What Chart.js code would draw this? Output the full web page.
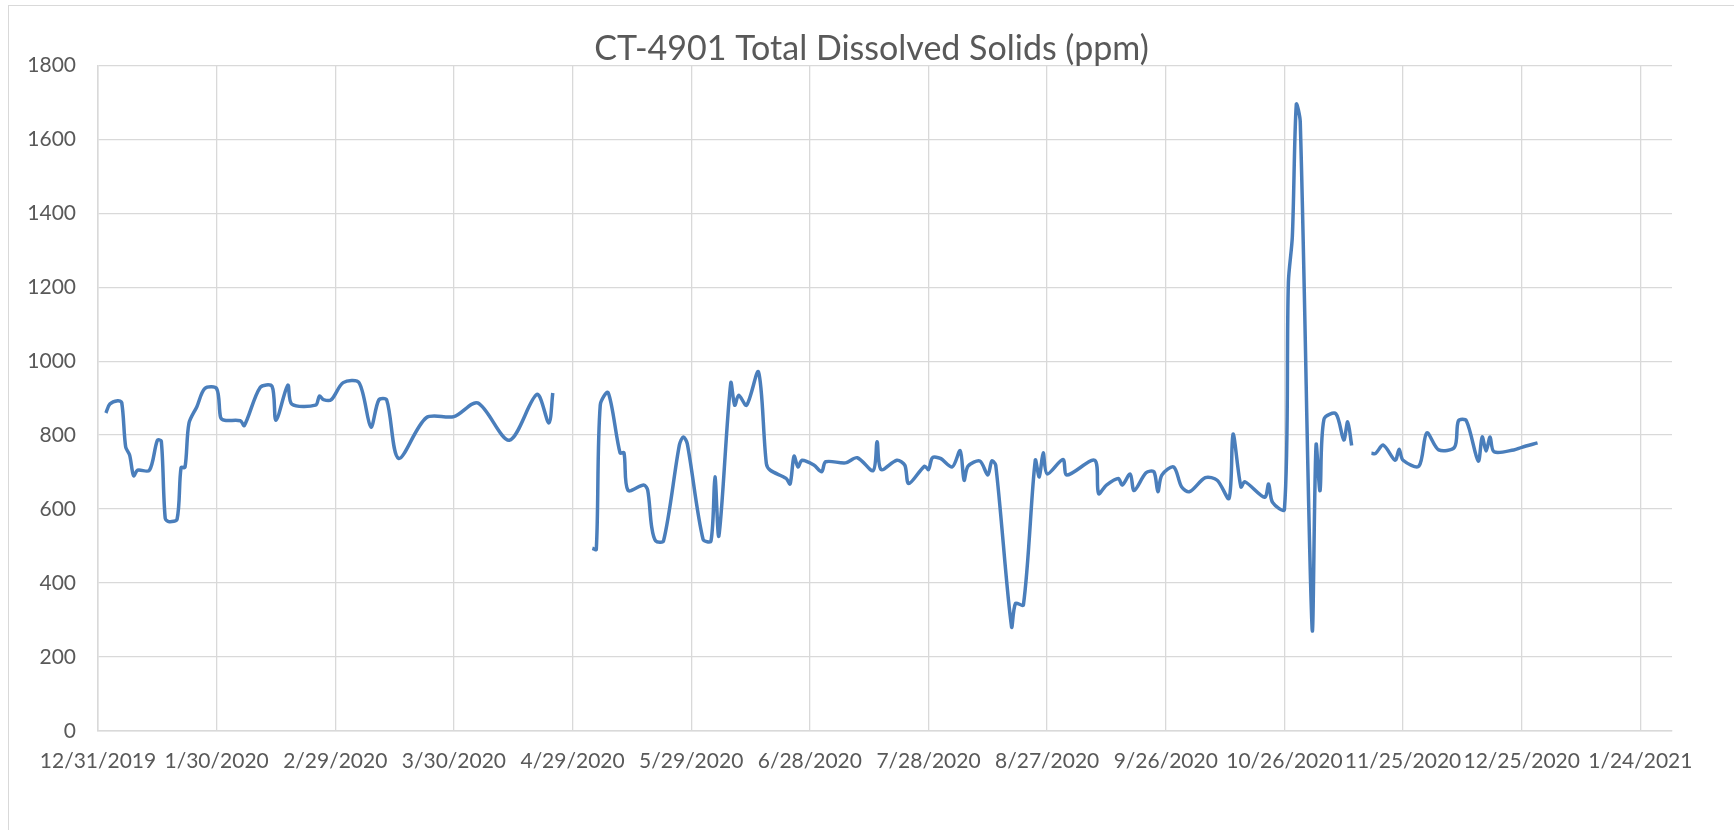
<!DOCTYPE html>
<html>
<head>
<meta charset="utf-8">
<script src="https://cdn.jsdelivr.net/npm/chart.js@4"></script>
<style>
  body { margin: 0; background: #fff; overflow: hidden; }
  #frame { position: absolute; left: 8px; top: 5px; width: 1760px; height: 860px; border: 1.5px solid #d9d9d9; }
  #tdsChart { position: absolute; left: 9px; top: 6px; }
</style>
</head>
<body>
<div id="frame"></div>
<canvas id="tdsChart" width="1725" height="824"></canvas>
<script>
// day 0 = 12/31/2019, null marks a gap in the readings
const days = [
  2, 3, 5, 6, 7, 8, 9, 10, 13, 15, 16, 17, 18, 20, 21, 22, 23, 25, 27, 30,
  31, 32, 36, 37, 41, 44, 45, 48, 49, 55, 56, 57, 59, 62, 66, 69, 71, 73, 76, 83,
  90, 96, 104, 111, 114, 115,
  120,
  125, 126, 127, 129, 132, 133, 134, 138, 139, 140, 141, 143, 147, 148, 149, 153, 155, 156, 157, 160,
  161, 162, 164, 167, 169, 170, 174, 175, 176, 177, 178, 181, 183, 184, 189, 192, 196, 197, 198, 202,
  204, 205, 209, 210, 211, 213, 216, 218, 219, 220, 223, 225, 226, 227, 231, 232, 234, 237, 238, 239,
  240, 244, 245, 252, 253, 255, 258, 259, 261, 262, 265, 267, 268, 269, 272, 274, 276, 280, 283, 286,
  287, 289, 290, 295, 296, 297, 300, 301, 302, 303, 304, 307, 308, 309, 310, 313, 315, 316, 317,
  319,
  322, 323, 325, 328, 329, 330, 334, 336, 339, 343, 344, 346, 349, 350, 351, 352, 353, 358, 360, 364
];
const tds = [
  860, 884, 893, 888, 768, 746, 690, 705, 705, 786, 784, 575, 566, 573, 712, 713, 832, 877, 926, 926,
  848, 840, 839, 826, 929, 932, 840, 935, 884, 881, 906, 896, 896, 942, 942, 822, 895, 895, 737, 847,
  850, 887, 786, 910, 833, 914,
  null,
  494, 491, 881, 915, 752, 752, 651, 665, 651, 552, 514, 514, 773, 795, 777, 518, 514, 687, 528, 941,
  881, 908, 881, 971, 723, 705, 683, 668, 743, 714, 732, 719, 701, 728, 725, 739, 704, 782, 707, 732,
  719, 669, 716, 707, 739, 737, 714, 758, 678, 716, 730, 692, 730, 719, 282, 345, 341, 732, 687, 752,
  695, 734, 692, 732, 642, 665, 683, 665, 695, 650, 698, 701, 647, 692, 714, 660, 647, 685, 678, 629,
  803, 660, 674, 632, 668, 618, 599, 1213, 1337, 1694, 1647, 277, 774, 650, 843, 858, 787, 836, 772,
  null,
  751, 750, 773, 732, 762, 732, 716, 806, 760, 767, 839, 839, 730, 795, 757, 795, 755, 760, 767, 779
];
const yTicks = [0, 200, 400, 600, 800, 1000, 1200, 1400, 1600, 1800];

const startDate = Date.UTC(2019, 11, 31);
function dayLabel(d) {
  const dt = new Date(startDate + d * 86400000);
  return (dt.getUTCMonth() + 1) + '/' + dt.getUTCDate() + '/' + dt.getUTCFullYear();
}

const textColor = '#595959';
const gridColor = '#d9d9d9';
const tickFont = { family: 'Lato', size: 21 };

new Chart(document.getElementById('tdsChart'), {
  type: 'line',
  data: {
    datasets: [{
      label: 'TDS',
      data: days.map((d, i) => ({ x: d, y: tds[i] })),
      borderColor: '#4a7ebb',
      borderWidth: 3.5,
      pointRadius: 0,
      tension: 0.3,
      spanGaps: false,
      fill: false
    }]
  },
  options: {
    responsive: false,
    animation: false,
    layout: { padding: 0 },
    plugins: {
      legend: { display: false },
      tooltip: { enabled: false },
      title: {
        display: true,
        text: 'CT-4901 Total Dissolved Solids (ppm)',
        color: textColor,
        font: { family: 'Lato', size: 34, weight: 'normal', lineHeight: 0.95 },
        padding: { top: 27, bottom: 0 }
      }
    },
    scales: {
      x: {
        type: 'linear',
        min: 0,
        max: 398,
        afterFit: s => { s.height = 99; },
        grid: { color: gridColor, lineWidth: 1.3, drawTicks: false },
        border: { color: gridColor, width: 1.5 },
        ticks: {
          stepSize: 30,
          includeBounds: false,
          autoSkip: false,
          maxRotation: 0,
          padding: 18,
          color: textColor,
          font: tickFont,
          callback: v => dayLabel(v)
        }
      },
      y: {
        min: yTicks[0],
        max: yTicks[yTicks.length - 1],
        afterFit: s => { s.width = 89; },
        grid: { color: gridColor, lineWidth: 1.3, drawTicks: false },
        border: { color: gridColor, width: 1.5 },
        ticks: {
          stepSize: yTicks[1] - yTicks[0],
          padding: 22,
          color: textColor,
          font: tickFont,
          callback: v => String(v)
        }
      },
      // empty right-hand strip so the plot ends where the reference does
      // while the title stays centred on the whole chart
      yRight: {
        position: 'right',
        min: 0,
        max: 1,
        afterFit: s => { s.width = 62; },
        grid: { display: false, drawTicks: false },
        border: { display: false },
        ticks: { display: false }
      }
    }
  }
});
</script>
</body>
</html>
